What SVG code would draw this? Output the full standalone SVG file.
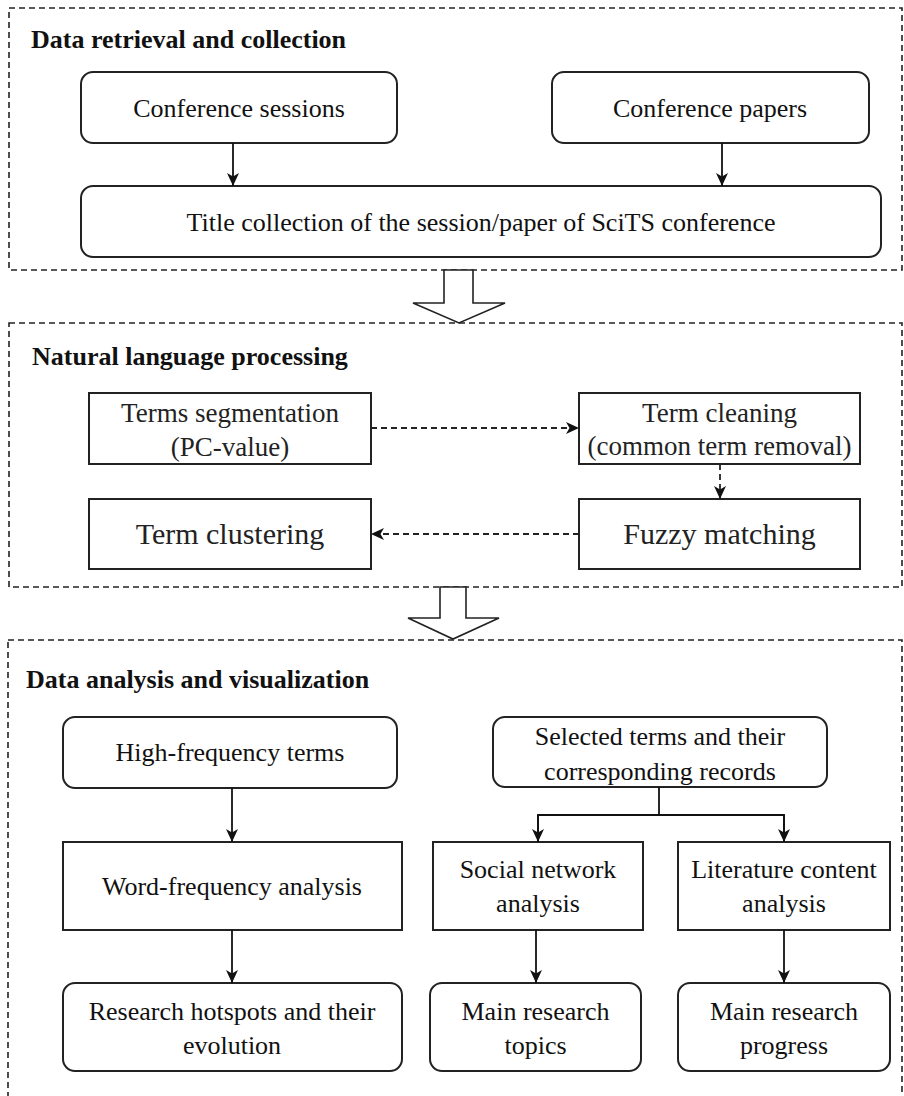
<svg xmlns="http://www.w3.org/2000/svg" width="904" height="1096" viewBox="0 0 904 1096">
<defs>
<marker id="arr" viewBox="0 0 13 12" refX="13" refY="6" markerWidth="13" markerHeight="12" markerUnits="userSpaceOnUse" orient="auto">
<path d="M0,0 L13,6 L0,12 L3.5,6 z" fill="#111"/>
</marker>
<style>
.sec{fill:none;stroke:#222;stroke-width:1.6;stroke-dasharray:6 4}
.box{fill:#fff;stroke:#222;stroke-width:2}
.t{font-family:"Liberation Serif","Times New Roman",serif;font-size:26px;fill:#111;text-anchor:middle}
.t2{font-family:"Liberation Serif","Times New Roman",serif;font-size:27px;fill:#222;text-anchor:middle}
.t3{font-family:"Liberation Serif","Times New Roman",serif;font-size:30px;fill:#222;text-anchor:middle}
.h{font-family:"Liberation Serif","Times New Roman",serif;font-size:26px;font-weight:bold;fill:#111}
.c{fill:none;stroke:#111;stroke-width:1.8}
.d{fill:none;stroke:#222;stroke-width:1.8;stroke-dasharray:6 4}
.big{fill:#fff;stroke:#222;stroke-width:1.6}
</style>
</defs>

<g id="section1">
<rect class="sec" x="9" y="8" width="893" height="262"/>
<text class="h" x="31" y="48">Data retrieval and collection</text>
</g>
<g id="section2">
<rect class="sec" x="9" y="323" width="893" height="264"/>
<text class="h" x="32" y="365">Natural language processing</text>
</g>
<g id="section3">
<rect class="sec" x="8" y="640" width="894" height="470"/>
<text class="h" x="26" y="688">Data analysis and visualization</text>
</g>

<g id="bigarrows">
<path class="big" d="M444,270 L473,270 L473,303 L505,303 L459,323 L413,303 L444,303 Z"/>
<path class="big" d="M440,587 L466,587 L466,618 L499,618 L453,639 L408,618 L440,618 Z"/>
</g>

<g id="n-sessions">
<rect class="box" x="81" y="72" width="316" height="71" rx="12"/>
<text class="t" x="239" y="117">Conference sessions</text>
</g>
<g id="n-papers">
<rect class="box" x="552" y="72" width="317" height="71" rx="12"/>
<text class="t" x="710" y="117">Conference papers</text>
</g>
<g id="n-title">
<rect class="box" x="81" y="186" width="800" height="71" rx="12"/>
<text class="t" x="481" y="231">Title collection of the session/paper of SciTS conference</text>
</g>

<g id="n-seg">
<rect class="box" x="89" y="393" width="282" height="71"/>
<text class="t2" x="230" y="422">Terms segmentation</text>
<text class="t2" x="230" y="456">(PC-value)</text>
</g>
<g id="n-clean">
<rect class="box" x="579" y="393" width="281" height="71"/>
<text class="t2" x="719.5" y="422">Term cleaning</text>
<text class="t2" x="719.5" y="455">(common term removal)</text>
</g>
<g id="n-cluster">
<rect class="box" x="89" y="499" width="282" height="70"/>
<text class="t3" x="230" y="544">Term clustering</text>
</g>
<g id="n-fuzzy">
<rect class="box" x="579" y="499" width="281" height="70"/>
<text class="t3" x="719.5" y="544">Fuzzy matching</text>
</g>

<g id="n-high">
<rect class="box" x="63" y="717" width="334" height="71" rx="12"/>
<text class="t" x="230" y="761">High-frequency terms</text>
</g>
<g id="n-selected">
<rect class="box" x="493" y="717" width="334" height="70" rx="12"/>
<text class="t" x="660" y="745">Selected terms and their</text>
<text class="t" x="660" y="780">corresponding records</text>
</g>
<g id="n-word">
<rect class="box" x="63" y="842" width="339" height="88"/>
<text class="t" x="232" y="895">Word-frequency analysis</text>
</g>
<g id="n-social">
<rect class="box" x="433" y="842" width="210" height="88"/>
<text class="t" x="538" y="878">Social network</text>
<text class="t" x="538" y="912">analysis</text>
</g>
<g id="n-lit">
<rect class="box" x="678" y="842" width="212" height="88"/>
<text class="t" x="784" y="878">Literature content</text>
<text class="t" x="784" y="912">analysis</text>
</g>
<g id="n-hotspots">
<rect class="box" x="63" y="983" width="339" height="88" rx="12"/>
<text class="t" x="232" y="1020">Research hotspots and their</text>
<text class="t" x="232" y="1054">evolution</text>
</g>
<g id="n-topics">
<rect class="box" x="430" y="983" width="211" height="88" rx="12"/>
<text class="t" x="535.5" y="1020">Main research</text>
<text class="t" x="535.5" y="1054">topics</text>
</g>
<g id="n-progress">
<rect class="box" x="678" y="983" width="212" height="88" rx="12"/>
<text class="t" x="784" y="1020">Main research</text>
<text class="t" x="784" y="1054">progress</text>
</g>

<g id="connectors">
<line class="c" x1="233" y1="143" x2="233" y2="186" marker-end="url(#arr)"/>
<line class="c" x1="722" y1="143" x2="722" y2="186" marker-end="url(#arr)"/>
<line class="d" x1="371" y1="428" x2="579" y2="428" marker-end="url(#arr)"/>
<line class="d" x1="720" y1="464" x2="720" y2="499" marker-end="url(#arr)"/>
<line class="d" x1="579" y1="534" x2="371" y2="534" marker-end="url(#arr)"/>
<line class="c" x1="232" y1="788" x2="232" y2="842" marker-end="url(#arr)"/>
<polyline class="c" points="659,787 659,815"/>
<polyline class="c" points="538,842 538,815 784,815 784,842"/>
<line class="c" x1="538" y1="815" x2="538" y2="842" marker-end="url(#arr)"/>
<line class="c" x1="784" y1="815" x2="784" y2="842" marker-end="url(#arr)"/>
<line class="c" x1="232" y1="930" x2="232" y2="983" marker-end="url(#arr)"/>
<line class="c" x1="536" y1="930" x2="536" y2="983" marker-end="url(#arr)"/>
<line class="c" x1="784" y1="930" x2="784" y2="983" marker-end="url(#arr)"/>
</g>
</svg>
